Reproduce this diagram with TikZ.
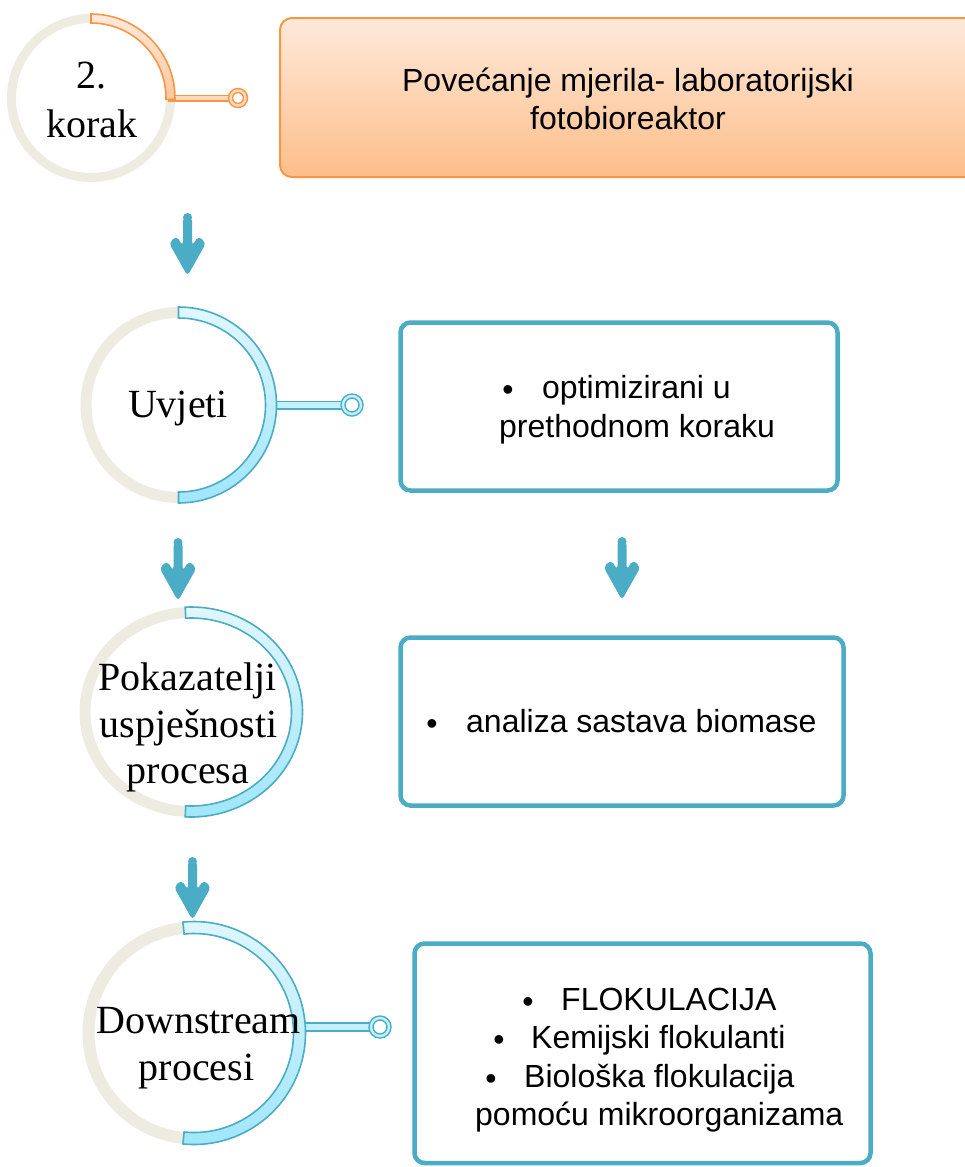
\documentclass[tikz,border=0pt]{standalone}
\usepackage{fontspec}
\setmainfont{Liberation Serif}
\newfontfamily\sansf{Liberation Sans}
\definecolor{ringgrey}{HTML}{EEECE1}
\definecolor{blueline}{HTML}{4BACC6}
\definecolor{bluetop}{HTML}{E0F7FD}
\definecolor{bluebot}{HTML}{A0E6FA}
\definecolor{bluemid}{HTML}{C4F0FB}
\definecolor{orline}{HTML}{F79646}
\definecolor{ortop}{HTML}{FEEADC}
\definecolor{orbot}{HTML}{FCC79C}
\definecolor{ormid}{HTML}{FDD8BA}
\definecolor{hdrtop}{HTML}{FEE9DA}
\definecolor{hdrbot}{HTML}{FDBE89}
\tikzset{
  ser/.style={font=\fontsize{40}{48}\selectfont, inner sep=0pt, anchor=base},
  san/.style={font=\sansf\fontsize{32}{38}\selectfont, inner sep=0pt, anchor=base west},
  sanc/.style={font=\sansf\fontsize{32}{38}\selectfont, inner sep=0pt, anchor=base},
  bul/.style={font=\sansf\fontsize{32}{38}\selectfont, inner sep=0pt, anchor=base},
  bluebox/.style={draw=blueline, line width=4.5pt, rounded corners=10pt, fill=white},
  hdrbox/.style={draw=orline, line width=2pt, rounded corners=12pt, top color=hdrtop, bottom color=hdrbot},
  bluebar/.style={draw=blueline, double=bluemid, line width=1.5pt, double distance=#1},
  orbar/.style={draw=orline, double=ormid, line width=1.5pt, double distance=#1},
  bluering/.style={circle, draw=blueline, double=bluemid, line width=1.5pt, double distance=2.4pt, fill=white, minimum size=#1, inner sep=0pt},
  orring/.style={circle, draw=orline, double=ormid, line width=1.5pt, double distance=2.4pt, fill=white, minimum size=#1, inner sep=0pt},
  bluearc/.style={draw=blueline, line width=1.6pt, top color=bluetop, bottom color=bluebot},
  orarc/.style={draw=orline, line width=1.6pt, top color=ortop, bottom color=orbot},
  greyring/.style={draw=ringgrey, line width=#1},
  downarr/.pic={
    \fill[blueline, rounded corners=4pt] (-4.5,-4) -- (-4.5,-33) -- (-11,-23) -- (-18.5,-30) -- (0,-63) -- (18.5,-30) -- (11,-23) -- (4.5,-33) -- (4.5,-4) -- cycle;
    \fill[blueline] (0,-4.5) circle (4.5);
  }
}
\begin{document}
\begin{tikzpicture}[x=1pt,y=1pt]
\useasboundingbox (0,0) rectangle (965,-1167);
\fill[white] (0,0) rectangle (965,-1167);
\clip (0,0) rectangle (965,-1167);

% ---------- header box ----------
\path[hdrbox] (280,-18) rectangle (995,-177);
\node[sanc] (h1) at (628,-91) {Povećanje mjerila- laboratorijski};
\node[sanc] (h2) at (628,-129) {fotobioreaktor};

% ---------- circle 1 ----------
\draw[greyring=9pt] (91,-98) circle (79.5);
\coordinate (k1) at (168,-98);
\coordinate (e1) at (238,-98);
\draw[orbar=4pt] (k1) -- (e1);
\path[orarc] ([shift={(91,-98)}]90:84) arc[start angle=90,end angle=-1,radius=84]
  -- ([shift={(91,-98)}]-1:75) arc[start angle=-1,end angle=90,radius=75] -- cycle;
\node[orring=15pt] (e1n) at (e1) {};
\node[ser] (c1a) at (91,-88) {2.};
\node[ser] (c1b) at (92,-137) {korak};

% ---------- circle 2 ----------
\draw[greyring=11pt] (178.5,-405) circle (92.5);
\coordinate (k2) at (268,-405);
\coordinate (e2) at (352,-405);
\draw[bluebar=6pt] (k2) -- (e2);
\path[bluearc] ([shift={(178.5,-405)}]90:98) arc[start angle=90,end angle=-90,radius=98]
  -- ([shift={(178.5,-405)}]-90:87) arc[start angle=-90,end angle=90,radius=87] -- cycle;
\node[bluering=18pt] (e2n) at (e2) {};
\node[ser] (c2a) at (178,-417) {Uvjeti};

% ---------- circle 3 ----------
\draw[greyring=11pt] (191,-712) ellipse [x radius=106, y radius=99.5];
\path[bluearc] ([shift={(191,-712)}]93:111.5 and 105) arc[start angle=93,end angle=-93,x radius=111.5,y radius=105]
  -- ([shift={(191,-712)}]-93:100.5 and 94) arc[start angle=-93,end angle=93,x radius=100.5,y radius=94] -- cycle;
\node[ser] (c3a) at (187.5,-690) {Pokazatelji};
\node[ser] (c3b) at (188.5,-737) {uspješnosti};
\node[ser] (c3c) at (188,-783) {procesa};

% ---------- circle 4 ----------
\draw[greyring=12pt] (194,-1033) circle (105.5);
\coordinate (k4) at (296,-1027);
\coordinate (e4) at (380,-1027);
\draw[bluebar=6.4pt] (k4) -- (e4);
\path[bluearc] ([shift={(194,-1033)}]95.7:111.5) arc[start angle=95.7,end angle=-95.7,radius=111.5]
  -- ([shift={(194,-1033)}]-95.7:99.5) arc[start angle=-95.7,end angle=95.7,radius=99.5] -- cycle;
\node[bluering=18pt] (e4n) at (e4) {};
\node[ser] (c4a) at (198.5,-1033) {Downstream};
\node[ser] (c4b) at (196.5,-1080) {procesi};

% ---------- boxes ----------
\path[bluebox] (400.5,-322.5) rectangle (837.5,-490.5);
\node[bul] (b2bul) at (508,-400) {•};
\node[san] (b2a) at (542,-398) {optimizirani u};
\node[san] (b2b) at (499,-437) {prethodnom koraku};

\path[bluebox] (400.5,-637.5) rectangle (843.5,-805.5);
\node[bul] (b3bul) at (432,-734) {•};
\node[san] (b3a) at (466,-732) {analiza sastava biomase};

\path[bluebox] (414.5,-943.5) rectangle (870.5,-1163);
\node[bul] (b4bul1) at (528,-1012) {•};
\node[san] (b4a) at (561,-1010) {FLOKULACIJA};
\node[bul] (b4bul2) at (499,-1050) {•};
\node[san] (b4b) at (531,-1048) {Kemijski flokulanti};
\node[bul] (b4bul3) at (491,-1089) {•};
\node[san] (b4c) at (524,-1087) {Biološka flokulacija};
\node[san] (b4d) at (475,-1125) {pomoću mikroorganizama};

% ---------- arrows ----------
\pic (a1) at (187.5,-213) {downarr};
\pic (a2) at (178,-538) {downarr};
\pic (a3) at (622,-537) {downarr};
\pic (a4) at (192.5,-857) {downarr};
\end{tikzpicture}
\end{document}
